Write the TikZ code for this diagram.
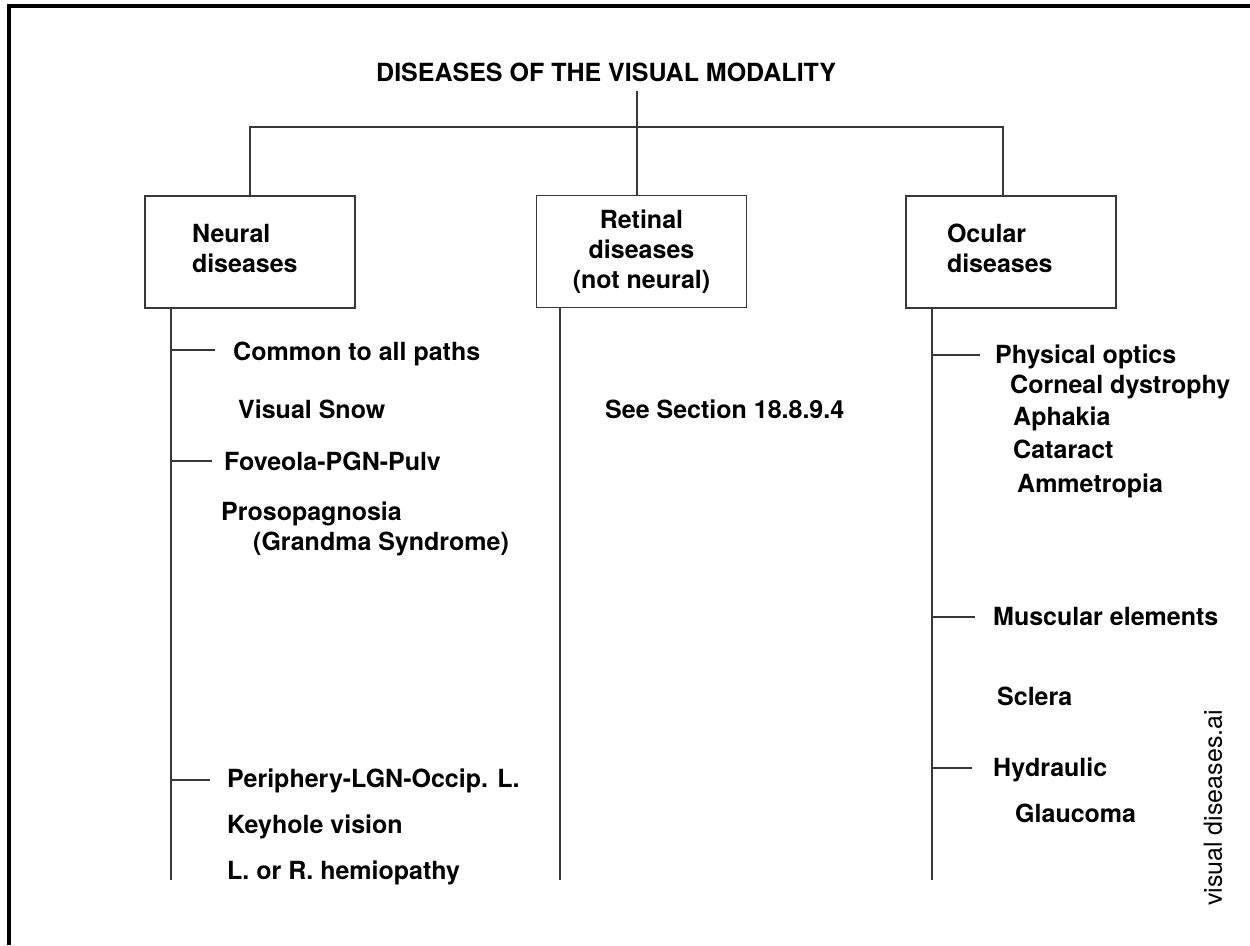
\documentclass[tikz,border=0pt]{standalone}
\usepackage{fontspec}
\setmainfont{TeX Gyre Heros}
\begin{document}
\begin{tikzpicture}[x=1pt,y=-1pt,
  line/.style={draw=black!78,line width=1.8pt},
  box/.style={line,rectangle,minimum width=210pt,minimum height=112pt,inner ysep=0pt,
    font=\fontsize{25pt}{30pt}\selectfont\bfseries},
  item/.style={anchor=base west,inner sep=0pt,font=\fontsize{25pt}{30pt}\selectfont\bfseries},
]
\useasboundingbox (0,0) rectangle (1250,945);
% frame on the left and top edges
\draw[line width=3.3pt] (9,945) -- (9,6) -- (1250,6);

% title
\node[item] (title) at (376,81) {DISEASES OF THE VISUAL MODALITY};

% the three groups
\node[box,text width=116pt,inner xsep=47pt,text depth=38pt,align=left] (neural) at (250,252) {Neural\\diseases};
\node[box,align=center,inner xsep=0pt] (retinal) at (641.5,251.5) {Retinal\\diseases\\(not neural)};
\node[box,text width=128pt,inner xsep=41pt,text depth=38pt,align=left] (ocular) at (1011,252) {Ocular\\diseases};

% bracket from the title to the groups
\coordinate (hub) at (637,127);
\draw[line] ([yshift=-10pt]title.base -| hub) -- (hub);
\draw[line] (neural.north) |- (hub) -| ([xshift=-8pt]ocular.north);
\draw[line] (hub) -- (hub |- retinal.north);

% stems
\coordinate (nstem) at (171,880);
\coordinate (rstem) at (560,880);
\coordinate (ostem) at (932,880);
\draw[line] (nstem |- neural.south) -- (nstem);
\draw[line] (rstem |- retinal.south) -- (rstem);
\draw[line] (ostem |- ocular.south) -- (ostem);

% neural items
\node[item] (common) at (233,360) {Common to all paths};
\node[item] (snow) at (238,418) {Visual Snow};
\node[item] (foveola) at (224,470) {Foveola-PGN-Pulv};
\node[item] (proso) at (221,520) {Prosopagnosia};
\node[item] (grandma) at (253,550) {(Grandma Syndrome)};
\node[item] (periph) at (227,787) {Periphery-LGN-Occip. L.};
\node[item] (keyhole) at (227,833) {Keyhole vision};
\node[item] (hemi) at (227,879) {L. or R. hemiopathy};

% retinal item
\node[item] (section) at (605,418) {See Section 18.8.9.4};

% ocular items
\node[item] (optics) at (995,363) {Physical optics};
\node[item] (cornea) at (1010,393) {Corneal dystrophy};
\node[item] (aphakia) at (1013,425) {Aphakia};
\node[item] (cataract) at (1013,458) {Cataract};
\node[item] (ammet) at (1017,492) {Ammetropia};
\node[item] (muscle) at (993,625) {Muscular elements};
\node[item] (sclera) at (997,705) {Sclera};
\node[item] (hydraulic) at (993,776) {Hydraulic};
\node[item] (glaucoma) at (1015,822) {Glaucoma};

% branch ticks
\draw[line] ([yshift=10pt]common.base west -| nstem) -- ([xshift=-18pt,yshift=10pt]common.base west);
\draw[line] ([yshift=9pt]foveola.base west -| nstem) -- ([xshift=-12pt,yshift=9pt]foveola.base west);
\draw[line] ([yshift=7pt]periph.base west -| nstem) -- ([xshift=-17pt,yshift=7pt]periph.base west);
\draw[line] ([yshift=8pt]optics.base west -| ostem) -- ([xshift=-15pt,yshift=8pt]optics.base west);
\draw[line] ([yshift=8pt]muscle.base west -| ostem) -- ([xshift=-18pt,yshift=8pt]muscle.base west);
\draw[line] ([yshift=8pt]hydraulic.base west -| ostem) -- ([xshift=-21pt,yshift=8pt]hydraulic.base west);

% file label
\node[rotate=90,inner sep=0pt,font=\fontsize{25pt}{30pt}\selectfont] (filelabel) at (1213,808) {visual diseases.ai};
\end{tikzpicture}
\end{document}
